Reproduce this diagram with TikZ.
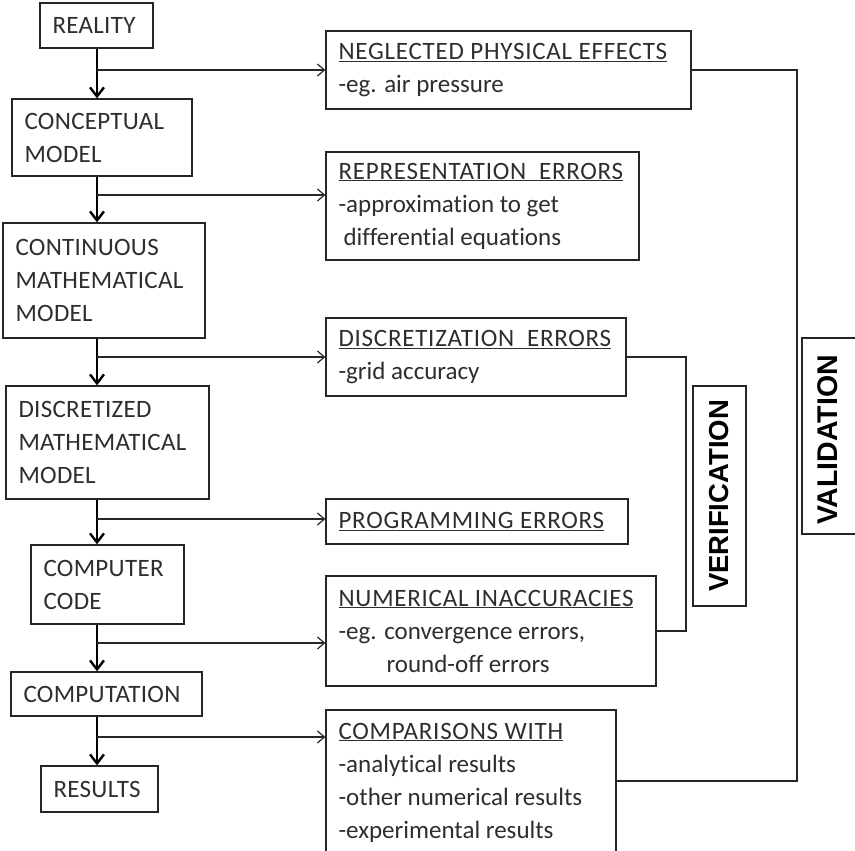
\documentclass[tikz,border=0pt]{standalone}
\usepackage{fontspec}
\setmainfont{Carlito}[Ligatures=CommonOff]
\newfontfamily\arialfont{Liberation Sans}
\usetikzlibrary{arrows.meta}
\definecolor{txtc}{HTML}{2E2E2E}
\definecolor{linec}{HTML}{262626}
\newcommand\hd[1]{{\addfontfeatures{LetterSpace=3}\underline{#1}}}
\newcommand\lt[1]{{\addfontfeatures{LetterSpace=1.2}#1}}
\newcommand\bx[6]{%
  \pgfmathsetmacro\bw{#4-#2}\pgfmathsetmacro\bh{#5-#3}%
  \node[box, minimum width=\bw pt, minimum height=\bh pt] (#1) at ({(#2+#4)/2},{(#3+#5)/2}) {};%
  \node[txt, anchor=west] at ([xshift=13pt]#1.west) {#6};}
\begin{document}
\begin{tikzpicture}[x=1pt,y=-1pt,
  box/.style={draw=linec, line width=1.3pt, inner sep=0pt, fill=white},
  txt/.style={inner sep=0pt, align=left, text=txtc, font=\fontsize{25}{33}\selectfont},
  vtxt/.style={inner sep=0pt, text=black, rotate=90, font=\arialfont\bfseries},
  mainarrow/.style={draw=black, line width=2.4pt, -{Straight Barb[length=9pt,width=14pt]}},
  brancharrow/.style={draw=linec, line width=1.2pt, -{Straight Barb[length=7pt,width=12pt]}},
  conn/.style={draw=linec, line width=1.2pt}]
\useasboundingbox (0,0) rectangle (855,851);
% left column
\bx{real}{40}{3}{153}{48}{\lt{REALITY}}
\bx{concept}{12}{99}{192}{176}{\lt{CONCEPTUAL}\\\lt{MODEL}}
\bx{cont}{3}{223}{205}{338}{\lt{CONTINUOUS}\\\lt{MATHEMATICAL}\\\lt{MODEL}}
\bx{disc}{6}{386}{209}{499}{\lt{DISCRETIZED}\\\lt{MATHEMATICAL}\\\lt{MODEL}}
\bx{code}{31}{545}{184}{624}{\lt{COMPUTER}\\\lt{CODE}}
\bx{compt}{11}{672}{202}{716}{\lt{COMPUTATION}}
\bx{res}{41}{766}{158}{812}{\lt{RESULTS}}
% right column
\bx{neg}{326}{31}{691}{109}{\hd{NEGLECTED PHYSICAL EFFECTS}\\-eg. air pressure}
\bx{rep}{326}{152}{639}{260}{\hd{REPRESENTATION\ \ ERRORS}\\-approximation to get\\\hspace*{5pt}differential equations}
\bx{dis}{326}{318}{626}{396}{\hd{DISCRETIZATION\ \ ERRORS}\\-grid accuracy}
\bx{prog}{326}{499}{628}{544}{\hd{PROGRAMMING ERRORS}}
\bx{num}{326}{576}{656}{686}{\hd{NUMERICAL INACCURACIES}\\-eg. convergence errors,\\\hspace*{48pt}round-off errors}
\bx{cmp}{326}{710}{616}{855}{\hd{COMPARISONS WITH}\\-analytical results\\-other numerical results\\-experimental results}
% side boxes
\node[box, minimum width=53pt, minimum height=220pt] (ver) at (719.5,496) {};
\node[vtxt, font=\arialfont\bfseries\fontsize{27.5}{30}\selectfont] at (ver) {VERIFICATION};
\node[box, minimum width=58pt, minimum height=196pt] (val) at (831,436) {};
\node[vtxt, font=\arialfont\bfseries\fontsize{28.5}{30}\selectfont] at (828,440) {VALIDATION};
% spine
\coordinate (sp) at (97,0);
\draw[mainarrow] (real.south -| sp) -- (concept.north -| sp);
\draw[mainarrow] (concept.south -| sp) -- (cont.north -| sp);
\draw[mainarrow] (cont.south -| sp) -- (disc.north -| sp);
\draw[mainarrow] (disc.south -| sp) -- (code.north -| sp);
\draw[mainarrow] (code.south -| sp) -- (compt.north -| sp);
\draw[mainarrow] (compt.south -| sp) -- (res.north -| sp);
% branches
\coordinate (b1) at (97,70);
\coordinate (b2) at (97,195);
\coordinate (b3) at (97,357);
\coordinate (b4) at (97,519);
\coordinate (b5) at (97,643);
\coordinate (b6) at (97,737);
\draw[brancharrow] (b1) -- (b1 -| neg.west);
\draw[brancharrow] (b2) -- (b2 -| rep.west);
\draw[brancharrow] (b3) -- (b3 -| dis.west);
\draw[brancharrow] (b4) -- (b4 -| prog.west);
\draw[brancharrow] (b5) -- (b5 -| num.west);
\draw[brancharrow] (b6) -- (b6 -| cmp.west);
% verification / validation brackets
\coordinate (vx) at (686,0);
\draw[conn] (dis.east) -- (dis.east -| vx) -- (num.east -| vx) -- (num.east);
\coordinate (wx) at (797,0);
\draw[conn] (neg.east) -- (neg.east -| wx) -- (wx |- 0,781) -- (cmp.east |- 0,781);
\end{tikzpicture}
\end{document}
